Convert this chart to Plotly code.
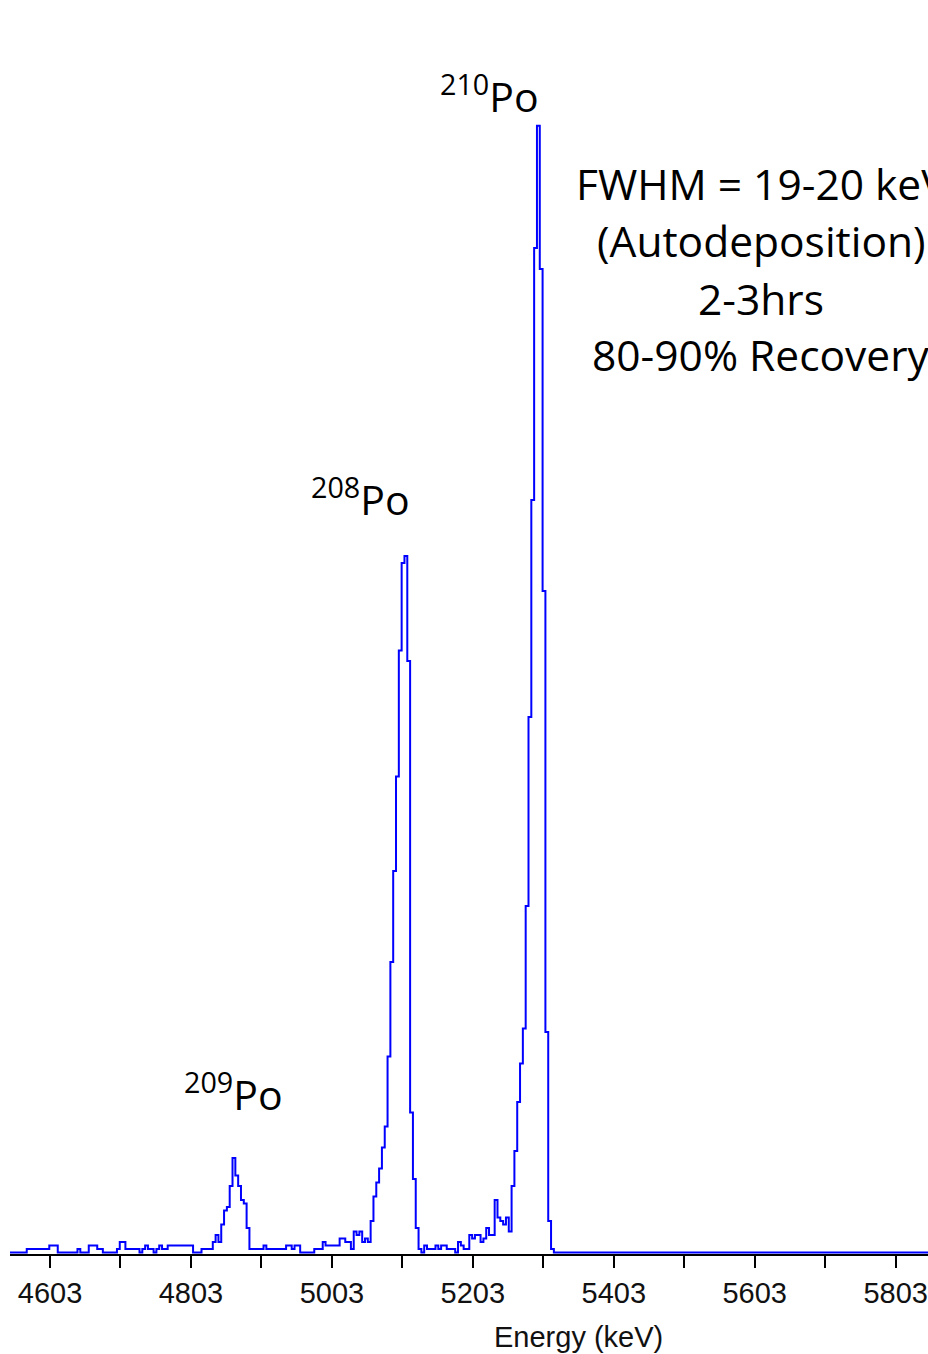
import plotly.graph_objects as go

# Alpha spectrum counts per channel (channel start = 4546 keV, width 4 keV)
CHANNEL_START_KEV = 4546.0
CHANNEL_WIDTH_KEV = 4.0
counts = [
    0, 0, 0, 0, 0, 0, 1, 1, 1, 1,
    1, 1, 1, 1, 2, 2, 2, 0, 0, 0,
    0, 0, 0, 0, 1, 0, 0, 0, 2, 2,
    2, 1, 1, 0, 0, 0, 0, 0, 1, 3,
    3, 1, 1, 1, 1, 1, 0, 1, 2, 1,
    1, 0, 1, 2, 1, 1, 2, 2, 2, 2,
    2, 2, 2, 2, 2, 0, 0, 0, 1, 1,
    1, 1, 3, 5, 3, 8, 12, 13, 19, 27,
    22, 19, 15, 14, 7, 1, 1, 1, 1, 1,
    2, 1, 1, 1, 1, 1, 1, 1, 2, 2,
    1, 2, 2, 0, 0, 0, 0, 0, 1, 1,
    1, 3, 2, 2, 2, 2, 2, 4, 4, 3,
    3, 1, 6, 5, 6, 3, 4, 3, 9, 16,
    20, 24, 30, 36, 56, 83, 109, 136, 172, 197,
    199, 169, 40, 21, 7, 1, 0, 2, 1, 1,
    1, 2, 1, 2, 2, 1, 1, 1, 0, 3,
    2, 1, 1, 5, 4, 5, 5, 3, 4, 7,
    5, 5, 15, 10, 9, 8, 10, 6, 19, 29,
    43, 54, 64, 99, 153, 215, 287, 322, 281, 189,
    63, 9, 1, 0, 0, 0, 0, 0, 0, 0,
    0, 0, 0, 0, 0, 0, 0, 0, 0, 0,
    0, 0, 0, 0, 0, 0, 0, 0, 0, 0,
    0, 0, 0, 0, 0, 0, 0, 0, 0, 0,
    0, 0, 0, 0, 0, 0, 0, 0, 0, 0,
    0, 0, 0, 0, 0, 0, 0, 0, 0, 0,
    0, 0, 0, 0, 0, 0, 0, 0, 0, 0,
    0, 0, 0, 0, 0, 0, 0, 0, 0, 0,
    0, 0, 0, 0, 0, 0, 0, 0, 0, 0,
    0, 0, 0, 0, 0, 0, 0, 0, 0, 0,
    0, 0, 0, 0, 0, 0, 0, 0, 0, 0,
    0, 0, 0, 0, 0, 0, 0, 0, 0, 0,
    0, 0, 0, 0, 0, 0, 0, 0, 0, 0,
    0, 0, 0, 0, 0, 0, 0,
]
energy = [CHANNEL_START_KEV + CHANNEL_WIDTH_KEV * i for i in range(len(counts))]

tick_values = [4603, 4803, 5003, 5203, 5403, 5603, 5803]
tick_labels = ["4603", "4803", "5003", "5203", "5403", "5603", "5803"]

peak_labels = ["<sup>210</sup>Po", "<sup>208</sup>Po", "<sup>209</sup>Po"]
peak_label_x = [5227, 5044, 4864]
peak_label_y = [331, 216, 46]

info_lines = ["FWHM = 19-20 keV", "(Autodeposition)", "2-3hrs", "80-90% Recovery"]
info_y = [305.6, 289.3, 272.7, 256.5]

fig = go.Figure(go.Scatter(
    x=energy, y=counts, mode="lines",
    line=dict(color="#0000FF", width=2, shape="hv"),
    hoverinfo="skip",
))

annotations = []
for t, x, y in zip(peak_labels, peak_label_x, peak_label_y):
    annotations.append(dict(text=t, x=x, y=y, xref="x", yref="y", showarrow=False,
                            xanchor="center", yanchor="middle",
                            font=dict(family="Open Sans", size=41, color="black")))
for t, y in zip(info_lines, info_y):
    annotations.append(dict(text=t, x=5612, y=y, xref="x", yref="y", showarrow=False,
                            xanchor="center", yanchor="middle",
                            font=dict(family="Open Sans", size=42.5, color="black")))
annotations.append(dict(text="Energy (keV)", x=5353, y=-0.066, xref="x", yref="paper",
                        showarrow=False, xanchor="center", yanchor="middle",
                        font=dict(family="Liberation Sans", size=29, color="#111111")))

fig.update_layout(
    width=928, height=1354,
    margin=dict(l=10, r=0, t=0, b=100),
    paper_bgcolor="white", plot_bgcolor="white",
    showlegend=False,
    annotations=annotations,
    xaxis=dict(
        range=[4546.24, 5848.9],
        tickmode="array", tickvals=tick_values, ticktext=tick_labels,
        ticks="outside", ticklen=12, tickwidth=2, tickcolor="black",
        minor=dict(ticks="outside", ticklen=12, tickwidth=2, tickcolor="black",
                   tick0=4603, dtick=100, showgrid=False),
        showline=True, linecolor="black", linewidth=2,
        showgrid=False, zeroline=False,
        tickfont=dict(family="Liberation Sans", size=29, color="#111111"),
    ),
    yaxis=dict(range=[-0.43, 357.9], visible=False, showgrid=False, zeroline=False),
)

fig.write_html("out.html", config={"displayModeBar": False},
               post_script="document.body.style.margin='0px';document.body.style.overflow='hidden';")
